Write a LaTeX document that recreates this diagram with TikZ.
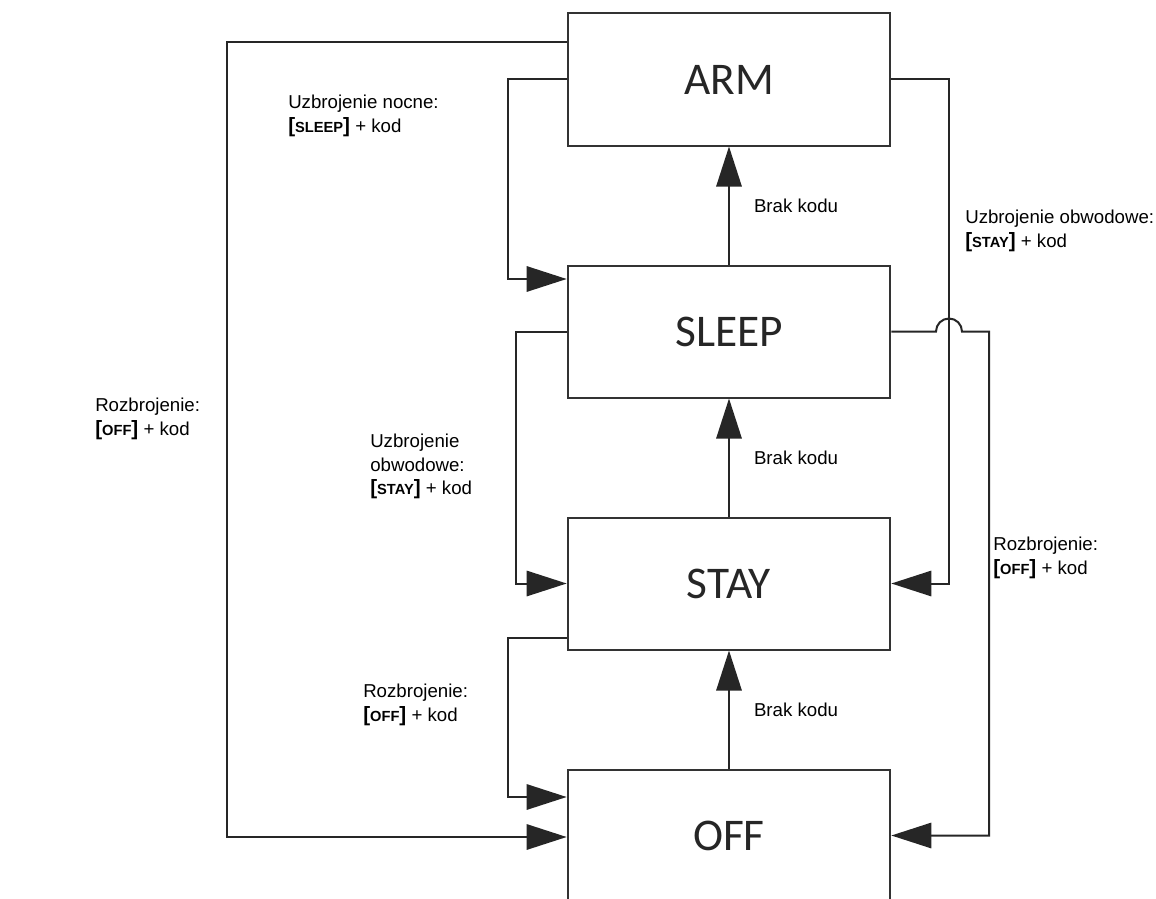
\documentclass[tikz,border=0pt]{standalone}
\usepackage{fontspec}
\setmainfont{Liberation Sans}
\newfontfamily\stanfont{Carlito}
\usetikzlibrary{positioning,arrows.meta,calc}
\newcommand{\klawisz}[1]{\textbf{\fontsize{15.5}{15.5}\selectfont[}\textbf{\fontsize{11}{11}\selectfont #1}\textbf{\fontsize{15.5}{15.5}\selectfont]}}
\tikzset{stan/.style={rectangle, draw=black!80, line width=1.5pt,
    minimum width=242pt, minimum height=99pt, text=black!85,
    font=\stanfont\fontsize{34}{40}\selectfont},
  strzalka/.style={-{Triangle[length=30pt,width=19pt]}, line width=1.5pt, draw=black!85},
  opis/.style={inner sep=0pt, align=left, font=\fontsize{14}{17.6}\selectfont}
}

\begin{document}
\begin{tikzpicture}[x=0.75pt, y=-0.75pt, node distance=88.5pt]
\clip (0,0) rectangle (1156,899);

   %ARM node
   \node (arm) [stan] at (729,79.5) {ARM};
   %SLEEP node
   \node (sleep) [stan, below=of arm] {SLEEP};
   %STAY node
   \node (stay) [stan, below=of sleep] {STAY};
   %OFF node
   \node (off) [stan, below=of stay] {OFF};

   %left side
   \draw [strzalka] (arm.west |- 0,42) -| (227,837) -- (off.west |- 0,837);
   \draw [strzalka] (arm.west) -- ++(-59,0) |- (sleep.west |- 0,279);
   \draw [strzalka] (sleep.west) -- ++(-51,0) |- (stay.west);
   \draw [strzalka] (stay.west |- 0,638) -- ++(-59,0) |- (off.west |- 0,797);

   %middle
   \draw [strzalka] (sleep.north) -- node (brak1) [opis, right=18pt] {Brak kodu} (arm.south);
   \draw [strzalka] (stay.north) -- node (brak2) [opis, right=18pt] {Brak kodu} (sleep.south);
   \draw [strzalka] (off.north) -- node (brak3) [opis, right=18pt] {Brak kodu} (stay.south);

   %right side
   \draw [strzalka] (arm.east) -- ++(58,0) |- (stay.east);
   \draw [strzalka] (sleep.east) -- (936,331.5) arc[start angle=180, end angle=0, radius=9.75pt]
      -- (989,331.5) |- (off.east);

   %labels
   \node (nocne) [opis, anchor=north west] at (288,95)
      {Uzbrojenie nocne:\\\klawisz{SLEEP} + kod};
   \node (obwod1) [opis, anchor=north west] at (965,210)
      {Uzbrojenie obwodowe:\\\klawisz{STAY} + kod};
   \node (rozbr1) [opis, anchor=north west] at (95,398)
      {Rozbrojenie:\\\klawisz{OFF} + kod};
   \node (obwod2) [opis, anchor=north west] at (370,434)
      {Uzbrojenie\\obwodowe:\\\klawisz{STAY} + kod};
   \node (rozbr2) [opis, anchor=north west] at (363,684)
      {Rozbrojenie:\\\klawisz{OFF} + kod};
   \node (rozbr3) [opis, anchor=north west] at (993,537)
      {Rozbrojenie:\\\klawisz{OFF} + kod};

\end{tikzpicture}
\end{document}
